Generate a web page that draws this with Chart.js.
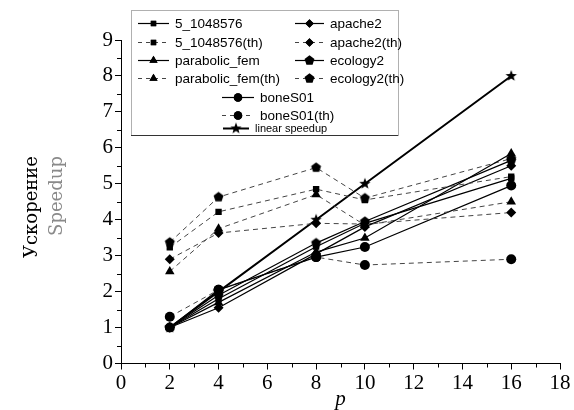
<!DOCTYPE html>
<html>
<head>
<meta charset="utf-8">
<script src="https://cdn.jsdelivr.net/npm/chart.js"></script>
<style>
  html, body { margin: 0; padding: 0; background: #fff; }
  #wrap { width: 574px; height: 410px; }
</style>
</head>
<body>
<div id="wrap"><canvas id="chart" width="574" height="410"></canvas></div>
<script>
// processes
const procs = [2, 4, 8, 10, 16];
const xTicks = [0, 2, 4, 6, 8, 10, 12, 14, 16, 18];
const yTicks = [0, 1, 2, 3, 4, 5, 6, 7, 8, 9];

// measured speedup
const s1048576 = [1, 1.8, 3.25, 3.9, 5.15];
const apache2 = [1, 1.55, 3.05, 3.8, 5.5];
const parabolicFem = [1, 1.7, 3.1, 3.49, 5.84];
const ecology2 = [1, 1.9, 3.35, 3.95, 5.65];
const boneS01 = [1, 2.05, 2.96, 3.24, 4.95];

// theoretical speedup
const s1048576Th = [3.23, 4.22, 4.85, 4.55, 5.2];
const apache2Th = [2.9, 3.63, 3.9, 3.88, 4.2];
const parabolicFemTh = [2.56, 3.75, 4.7, 3.85, 4.5];
const ecology2Th = [3.37, 4.63, 5.45, 4.6, 5.7];
const boneS01Th = [1.3, 2.05, 2.96, 2.74, 2.9];

const linearSpeedup = [1, 2, 4, 5, 8];

const serif = "'Liberation Serif', 'DejaVu Serif', serif";
const wideSerif = "'DejaVu Serif', serif";
const sans = "'Liberation Sans', Arial, sans-serif";

// filled shapes that chart.js has no built-in style for
const makeShape = (kind, r) => {
  const c = document.createElement("canvas"),
    size = Math.ceil(r * 2 + 2);
  c.width = size;
  c.height = size;
  const g = c.getContext("2d"),
    cx = size / 2,
    cy = size / 2;
  g.fillStyle = "#000";
  g.beginPath();
  if (kind === "pentagon") {
    for (let i = 0; i < 5; i++) {
      const a = -Math.PI / 2 + (i * 2 * Math.PI) / 5;
      g.lineTo(cx + r * Math.cos(a), cy + r * Math.sin(a));
    }
  } else {
    for (let i = 0; i < 10; i++) {
      const a = -Math.PI / 2 + (i * Math.PI) / 5,
        rr = i % 2 ? r * 0.42 : r;
      g.lineTo(cx + rr * Math.cos(a), cy + rr * Math.sin(a));
    }
  }
  g.closePath();
  g.fill();
  return c;
};

const pentagon = makeShape("pentagon", 5.2);
const star = makeShape("star", 6);

const toXY = (vals) => vals.map((v, i) => ({ x: procs[i], y: v }));

const solid = (label, vals, style, radius) => ({
  label: label,
  data: toXY(vals),
  borderColor: "#000",
  borderWidth: 1.2,
  pointStyle: style,
  pointRadius: radius,
  pointBackgroundColor: "#000",
  pointBorderColor: "#000",
  pointBorderWidth: 0,
  dashed: false,
});

const dashed = (label, vals, style, radius) => ({
  label: label,
  data: toXY(vals),
  borderColor: "#444",
  borderWidth: 1,
  borderDash: [5, 4],
  pointStyle: style,
  pointRadius: radius,
  pointBackgroundColor: "#000",
  pointBorderColor: "#000",
  pointBorderWidth: 0,
  dashed: true,
});

const datasets = [
  solid("5_1048576", s1048576, "rect", 4.5),
  dashed("5_1048576(th)", s1048576Th, "rect", 4.5),
  solid("parabolic_fem", parabolicFem, "triangle", 5.5),
  dashed("parabolic_fem(th)", parabolicFemTh, "triangle", 5.5),
  solid("apache2", apache2, "rectRot", 5),
  dashed("apache2(th)", apache2Th, "rectRot", 5),
  solid("ecology2", ecology2, pentagon, 5),
  dashed("ecology2(th)", ecology2Th, pentagon, 5),
  solid("boneS01", boneS01, "circle", 5),
  dashed("boneS01(th)", boneS01Th, "circle", 5),
  {
    label: "linear speedup",
    data: toXY(linearSpeedup),
    borderColor: "#000",
    borderWidth: 2,
    pointStyle: star,
    pointRadius: 6,
    pointBackgroundColor: "#000",
    pointBorderWidth: 0,
    dashed: false,
  },
];

// legend layout: [dataset index, sample left, text left, row y, font size]
const legendRows = [
  [0, 138, 175, 23, 13.5],
  [1, 138, 175, 42, 13.5],
  [2, 138, 175, 60, 13.5],
  [3, 138, 175, 78, 13.5],
  [4, 295, 330, 23, 13.5],
  [5, 295, 330, 42, 13.5],
  [6, 295, 330, 60, 13.5],
  [7, 295, 330, 78, 13.5],
  [8, 222, 260, 97, 13.5],
  [9, 222, 260, 115, 13.5],
  [10, 223, 255, 128, 11],
];

const drawMarker = (ctx, ds, x, y) => {
  const st = ds.pointStyle;
  if (st instanceof HTMLCanvasElement) {
    ctx.drawImage(st, x - st.width / 2, y - st.height / 2);
    return;
  }
  ctx.fillStyle = "#000";
  Chart.helpers.drawPoint(ctx, { pointStyle: st, radius: ds.pointRadius * 0.85, rotation: 0 }, x, y);
  ctx.fill();
};

const decorations = {
  id: "decorations",
  afterDraw(chart) {
    const ctx = chart.ctx,
      xs = chart.scales.x,
      ys = chart.scales.y;
    ctx.save();

    // minor ticks
    ctx.strokeStyle = "#000";
    ctx.lineWidth = 1;
    ctx.beginPath();
    for (let v = 1; v < 18; v += 2) {
      const px = Math.round(xs.getPixelForValue(v)) + 0.5;
      ctx.moveTo(px, ys.bottom);
      ctx.lineTo(px, ys.bottom + 4);
    }
    for (let v = 0.5; v < 9; v += 1) {
      const py = Math.round(ys.getPixelForValue(v)) + 0.5;
      ctx.moveTo(xs.left - 4, py);
      ctx.lineTo(xs.left, py);
    }
    ctx.stroke();

    // axis titles
    ctx.font = "18px " + wideSerif;
    ctx.textAlign = "center";
    ctx.textBaseline = "middle";
    ctx.save();
    ctx.translate(32, 207);
    ctx.rotate(-Math.PI / 2);
    ctx.fillStyle = "#000";
    ctx.fillText("Ускорение", 0, 0);
    ctx.restore();
    ctx.save();
    ctx.translate(57, 196);
    ctx.rotate(-Math.PI / 2);
    ctx.fillStyle = "#8a8a8a";
    ctx.fillText("Speedup", 0, 0);
    ctx.restore();
    ctx.font = "italic 21px " + serif;
    ctx.fillStyle = "#000";
    ctx.fillText("p", xs.getPixelForValue(9), 399);

    // legend box
    ctx.fillStyle = "#fff";
    ctx.fillRect(131, 10, 267, 125);
    ctx.strokeStyle = "#b0b0b0";
    ctx.strokeRect(131.5, 10.5, 267, 125);
    ctx.strokeStyle = "#333";
    ctx.beginPath();
    ctx.moveTo(131, 135.5);
    ctx.lineTo(398, 135.5);
    ctx.stroke();

    legendRows.forEach(([i, sx, tx, ry, fs]) => {
      const ds = datasets[i],
        ex = tx - 6,
        mx = (sx + ex) / 2;
      ctx.strokeStyle = ds.dashed ? "#444" : "#000";
      ctx.lineWidth = ds.label === "linear speedup" ? 2 : 1.2;
      ctx.setLineDash(ds.dashed ? [4, 4] : []);
      ctx.beginPath();
      ctx.moveTo(sx, ry + 0.5);
      ctx.lineTo(ex, ry + 0.5);
      ctx.stroke();
      ctx.setLineDash([]);
      drawMarker(ctx, ds, mx, ry + 0.5);
      ctx.font = fs + "px " + sans;
      ctx.fillStyle = "#000";
      ctx.textAlign = "left";
      ctx.textBaseline = "middle";
      ctx.fillText(ds.label, tx, ry + 1);
    });

    ctx.restore();
  },
};

new Chart(document.getElementById("chart"), {
  type: "line",
  data: { datasets: datasets },
  options: {
    responsive: false,
    animation: false,
    layout: { padding: { top: 40, right: 14, left: 0, bottom: 0 } },
    plugins: { legend: { display: false }, tooltip: { enabled: false } },
    elements: { line: { tension: 0 } },
    scales: {
      x: {
        type: "linear",
        min: 0,
        max: 18,
        afterBuildTicks: (s) => { s.ticks = xTicks.map((v) => ({ value: v })); },
        afterFit: (s) => { s.height = 46.5; },
        border: { display: true, color: "#000", width: 1 },
        grid: { drawOnChartArea: false, drawTicks: true, tickLength: 6, color: "#000" },
        ticks: { color: "#000", padding: 1, font: { family: serif, size: 21 } },
      },
      y: {
        type: "linear",
        min: 0,
        max: 9,
        afterBuildTicks: (s) => { s.ticks = yTicks.map((v) => ({ value: v })); },
        afterFit: (s) => { s.width = 121; },
        border: { display: true, color: "#000", width: 1 },
        grid: { drawOnChartArea: false, drawTicks: true, tickLength: 6, color: "#000" },
        ticks: { color: "#000", padding: 2, font: { family: serif, size: 21 } },
      },
    },
  },
  plugins: [decorations],
});
</script>
</body>
</html>
